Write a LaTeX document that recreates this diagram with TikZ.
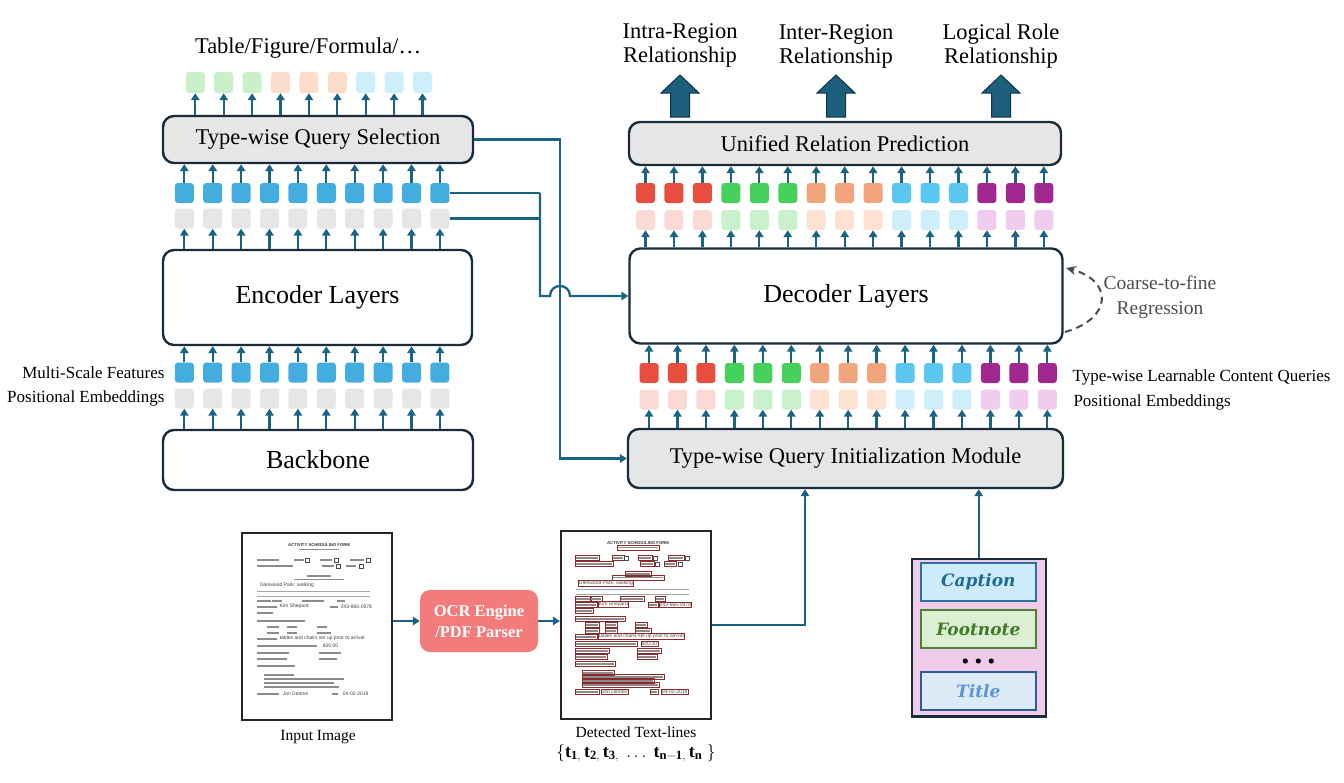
\documentclass[tikz,border=0pt]{standalone}
\usepackage{fontspec}
\setmainfont{Liberation Serif}
\newfontfamily\capfont{DejaVu Serif}
\newfontfamily\formfont{Liberation Sans}
\usetikzlibrary{arrows.meta,calc}
\definecolor{teal1}{HTML}{1B6383}
\definecolor{edge}{HTML}{1A2B3A}
\definecolor{boxgray}{HTML}{E6E6E6}
\definecolor{msblue}{HTML}{43ADDF}
\definecolor{tokgray}{HTML}{E6E6E6}
\definecolor{oG}{HTML}{C9F0CB}
\definecolor{oO}{HTML}{FCDDCC}
\definecolor{oB}{HTML}{CDEFFB}
\definecolor{dR}{HTML}{E84D3D}
\definecolor{dG}{HTML}{44D15C}
\definecolor{dO}{HTML}{F0A57D}
\definecolor{dB}{HTML}{5BC7F0}
\definecolor{dP}{HTML}{A1288F}
\definecolor{qR}{HTML}{FBDAD6}
\definecolor{qG}{HTML}{C9F1CC}
\definecolor{qO}{HTML}{FDE2D4}
\definecolor{qB}{HTML}{CFEEFB}
\definecolor{qP}{HTML}{F0CDEE}
\definecolor{bigfill}{HTML}{1D5E7D}
\definecolor{bigedge}{HTML}{0E3549}
\definecolor{cfgray}{HTML}{4D4D4D}
\definecolor{pinkp}{HTML}{EFCBEA}
\definecolor{capF}{HTML}{CDEBFA}
\definecolor{capE}{HTML}{2E6F9E}
\definecolor{capT}{HTML}{1F6B94}
\definecolor{fnF}{HTML}{DCEFD3}
\definecolor{fnE}{HTML}{4E7F34}
\definecolor{fnT}{HTML}{3F7A2A}
\definecolor{tiF}{HTML}{DCE9F6}
\definecolor{tiE}{HTML}{2F5C96}
\definecolor{tiT}{HTML}{5B95D1}
\definecolor{ocrF}{HTML}{F47B7B}
\definecolor{detred}{HTML}{8E2A2A}
\newcommand\fszA{\fontsize{26}{30}\selectfont}
\newcommand\fszB{\fontsize{22.5}{24}\selectfont}
\newcommand\fszC{\fontsize{17}{20}\selectfont}
\newcommand\fszD{\fontsize{15.5}{18}\selectfont}
\newcommand\fszE{\fontsize{19.5}{25}\selectfont}
\newcommand\formbody[1]{%
  \node[font=\formfont\bfseries\fontsize{4.2}{5}\selectfont, text=black!80] at (77,12) {ACTIVITY SCHEDULING FORM};
  \foreach \x/\y/\w in {57/16.5/40, 15/27/22, 52/27/10, 78/27/12, 108/27/14, 15/33/36, 80/33/12, 104/33/10,
     65/43/24, 52/46.5/50, 15/68/14, 30/68/10, 60/68/22, 95/68/8, 15/74/20, 88/74/8, 15/80/16,
     15/88/48, 25/94/12, 45/94/10, 75/94/10, 25/100/12, 45/100/10, 75/100/14, 15/106/20, 15/113/60,
     15/120/32, 77/120/22, 15/126/30, 77/126/18, 15/133/38, 22/142/30, 22/146/80, 22/150/70, 22/154/75,
     15/161/22, 90/161/6}{
    \draw[black!45, line width=1.1pt] (\x,\y) -- ++(\w,0);
    \ifnum#1=1 \draw[detred, line width=0.6pt] ({\x-1},{\y-2.3}) rectangle ++({\w+2},4.6); \fi
  }
  \foreach \x/\y in {63/27, 92/27, 124/27, 94/33, 117/33}{
    \draw[black!70, line width=0.6pt] ({\x},{\y-2}) rectangle ++(4,4);
  }
  \foreach \x/\y/\t in {17/52/Glenwood Park: walking, 37/73.5/Kim Shepard, 98/73.5/243-865-0978,
     37/105.5/tables and chairs set up prior to arrival, 80/112.5/600.00, 40/160.5/Jon Denton, 100/160.5/04-02-2019}{
    \ifnum#1=1
      \node[anchor=west, inner sep=0.6pt, draw=detred, line width=0.6pt, text=black!70, font=\formfont\fontsize{5}{6}\selectfont] at (\x,\y) {\t};
    \else
      \node[anchor=west, inner sep=0.6pt, text=black!75, font=\formfont\fontsize{5}{6}\selectfont] at (\x,\y) {\t};
    \fi
  }
  \foreach \y in {58, 63}{\draw[black!35, line width=0.5pt] (15,\y) -- (128,\y);}
}
\begin{document}
\begin{tikzpicture}[x=1pt,y=-1pt,
  wbox/.style={draw=edge, line width=2.4pt, rounded corners=11pt, fill=white, inner sep=0pt},
  gbox/.style={wbox, fill=boxgray},
  tok/.style={rounded corners=3pt, minimum width=19pt, minimum height=20pt, inner sep=0pt},
  arr/.style={draw=teal1, line width=2.3pt, -{Triangle[length=7pt,width=8.5pt]}},
  conn/.style={draw=teal1, line width=2.3pt},
  ibox/.style={line width=2pt, minimum width=115pt, minimum height=37.5pt, inner sep=0pt,
     font=\capfont\bfseries\itshape\fontsize{17}{20}\selectfont},
  cfarr/.style={draw=cfgray, line width=2pt, dash pattern=on 7pt off 5pt, -{Stealth[length=10pt,width=9pt]}}]
\useasboundingbox (0,0) rectangle (1344,782);

% main boxes
\node[gbox, minimum width=310pt, minimum height=47pt, font=\fszB] (tqs) at (318,139.5) {Type-wise Query Selection};
\node[wbox, minimum width=309pt, minimum height=95pt, font=\fszA] (enc) at (317.5,297.5) {Encoder Layers};
\node[wbox, minimum width=310pt, minimum height=60pt, font=\fszA] (bb) at (318,460) {Backbone};
\node[gbox, minimum width=432pt, minimum height=43pt, font=\fszB] (urp) at (845,143.5) {Unified Relation Prediction};
\node[wbox, minimum width=433pt, minimum height=95pt, font=\fszA] (dec) at (846,296) {Decoder Layers};
\node[gbox, minimum width=435pt, minimum height=59pt, font=\fszB] (tqim) at (845.5,458.5) {Type-wise Query Initialization Module};

% title
\node[font=\fszB] (ttl) at (308,48) {Table/Figure/Formula/\ldots};

% output tokens
\foreach \i/\c in {1/oG,2/oG,3/oG,4/oO,5/oO,6/oO,7/oB,8/oB,9/oB}{
  \pgfmathsetmacro\xx{195.3+28.4*(\i-1)}
  \node[tok, fill=\c, minimum height=21pt] (o\i) at (\xx,82.5) {};
  \draw[arr] (tqs.north -| o\i) -- (o\i.south);
}

% left tokens
\foreach \i in {1,...,10}{
  \pgfmathsetmacro\xx{184.3+28.4*(\i-1)}
  \node[tok, fill=msblue] (su\i) at (\xx,193) {};
  \node[tok, fill=tokgray] (sg\i) at (\xx,218.5) {};
  \node[tok, fill=msblue] (mb\i) at (\xx,372.5) {};
  \node[tok, fill=tokgray] (mg\i) at (\xx,398.5) {};
  \draw[arr] (su\i.north) -- (su\i.north |- tqs.south);
  \draw[arr] (enc.north -| sg\i) -- (sg\i.south);
  \draw[arr] (mb\i.north) -- (mb\i.north |- enc.south);
  \draw[arr] (bb.north -| mg\i) -- (mg\i.south);
}
\node[anchor=east, font=\fszC] (lms) at (168,372.5) {Multi-Scale Features};
\node[anchor=east, font=\fszC] (lpe) at (168,398.5) {Positional Embeddings};

% decoder tokens
\foreach \i/\c/\p in {1/dR/qR,2/dR/qR,3/dR/qR,4/dG/qG,5/dG/qG,6/dG/qG,7/dO/qO,8/dO/qO,9/dO/qO,
                       10/dB/qB,11/dB/qB,12/dB/qB,13/dP/qP,14/dP/qP,15/dP/qP}{
  \pgfmathsetmacro\xa{645.5+28.45*(\i-1)}
  \pgfmathsetmacro\xb{649+28.45*(\i-1)}
  \node[tok, fill=\c] (du\i) at (\xa,193) {};
  \node[tok, fill=\p] (dp\i) at (\xa,220) {};
  \node[tok, fill=\c] (lc\i) at (\xb,373) {};
  \node[tok, fill=\p] (lp\i) at (\xb,399.5) {};
  \draw[arr] (du\i.north) -- (du\i.north |- urp.south);
  \draw[arr] (dec.north -| dp\i) -- (dp\i.south);
  \draw[arr] (lc\i.north) -- (lc\i.north |- dec.south);
  \draw[arr] (tqim.north -| lp\i) -- (lp\i.south);
}
\node[anchor=west, font=\fszC] (lcq) at (1069,377) {Type-wise Learnable Content Queries};
\node[anchor=west, font=\fszC] (lpe2) at (1070,402) {Positional Embeddings};

% big arrows and relation labels
\foreach \xx in {680,836,1001}{
  \filldraw[fill=bigfill, draw=bigedge, line width=1pt]
    ({\xx-9.5},117) -- ({\xx-9.5},93) -- ({\xx-19},93) -- (\xx,75) -- ({\xx+19},93) -- ({\xx+9.5},93) -- ({\xx+9.5},117) -- cycle;
}
\node[align=center, font=\fszB] (r1) at (680,45) {Intra-Region\\Relationship};
\node[align=center, font=\fszB] (r2) at (836,46) {Inter-Region\\Relationship};
\node[align=center, font=\fszB] (r3) at (1001,46) {Logical Role\\Relationship};

% coarse-to-fine
\coordinate (cf1) at (1065,332);
\coordinate (cf2) at (1066,268);
\draw[cfarr] (cf1) .. controls (1114,318) and (1112,280) .. (cf2);
\node[align=center, text=cfgray, font=\fszE] (cft) at (1160,297) {Coarse-to-fine\\Regression};

% connectors from selection / encoder
\coordinate (vx) at (560,0);
\draw[arr] (tqs.east) -- (tqs.east -| vx) -- (vx |- tqim.west) -- (tqim.west);
\coordinate (hx) at (540,0);
\draw[conn] (su10.east) -- (su10.east -| hx);
\draw[conn] (sg10.east) -- (sg10.east -| hx);
\draw[arr] (su10.east -| hx) -- (hx |- dec.west) -- ([xshift=-10pt]vx |- dec.west)
   .. controls +(0,-13.3) and +(0,-13.3) .. ([xshift=10pt]vx |- dec.west) -- (dec.west);

% documents
\node[draw=black!85, line width=2pt, fill=white, minimum width=150.6pt, minimum height=187pt, inner sep=0pt] (inimg) at (317,626.5) {};
\node[draw=black!85, line width=2pt, fill=white, minimum width=150.3pt, minimum height=188pt, inner sep=0pt] (det) at (636,625) {};
\begin{scope}[shift={(242,533)}]\formbody{0}\end{scope}
\begin{scope}[shift={(561,531)}]\formbody{1}\end{scope}
\node[font=\fszD] (inlab) at (318,737) {Input Image};
\node[font=\fszD] (detlab) at (636,732) {Detected Text-lines};
\node[font=\fontsize{18}{22}\selectfont] (detmath) at (636,753) {%
  $\{\mathbf{t}_{\mathbf{1},}\,\mathbf{t}_{\mathbf{2},}\,\mathbf{t}_{\mathbf{3},}\ \dots\ \mathbf{t}_{\mathbf{n-1},}\,\mathbf{t}_{\mathbf{n}}\ \}$};

% OCR
\node[fill=ocrF, rounded corners=10pt, minimum width=118pt, minimum height=62pt, text=white, align=center,
      font=\bfseries\fontsize{16.5}{21}\selectfont] (ocr) at (479,621) {OCR Engine\\/PDF Parser};
\draw[arr] (inimg.east |- ocr.west) -- (ocr.west);
\draw[arr] (ocr.east) -- (det.west |- ocr.east);

% detected -> init module
\coordinate (jx) at (805,0);
\draw[arr] (det.east) -- (det.east -| jx) -- (jx |- tqim.south);

% type panel
\node[draw=edge, line width=2.4pt, fill=pinkp, minimum width=134pt, minimum height=157.7pt, inner sep=0pt] (panel) at (978.7,637.8) {};
\node[ibox, draw=capE, fill=capF, text=capT] (cap) at (978.3,582) {Caption};
\node[ibox, draw=fnE, fill=fnF, text=fnT] (fn) at (978.3,629) {Footnote};
\node[ibox, draw=tiE, fill=tiF, text=tiT] (tit) at (978.3,691) {Title};
\foreach \dx in {-13,0,13}{\fill[black] ({978.3+\dx},661) circle (2.6pt);}
\draw[arr] (panel.north) -- (panel.north |- tqim.south);
\end{tikzpicture}
\end{document}
